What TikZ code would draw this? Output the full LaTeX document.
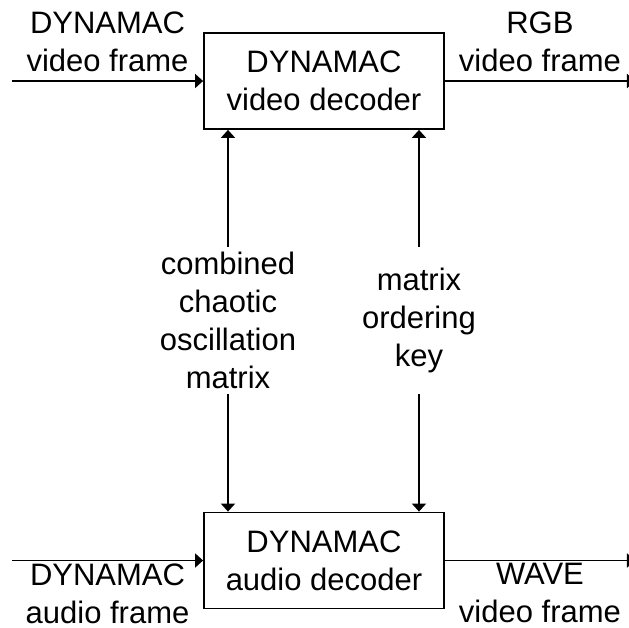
\documentclass[tikz,border=0pt]{standalone}
\usepackage{fontspec}
\setmainfont{Liberation Sans}
\usetikzlibrary{arrows.meta}

\begin{document}
\begin{tikzpicture}[x=0.5pt,y=0.5pt,line width=0.9pt,>={Triangle[length=4pt,width=7pt]}]
	\tikzstyle{every node}+=[inner sep=0pt, align=center, font=\fontsize{15.5}{19}\selectfont]
	\tikzstyle{decoder}=[draw, minimum width=120pt, minimum height=48pt]
	\tikzstyle{signal}=[minimum height=72.5pt]
	\useasboundingbox (0,0) rectangle (629,-628);
	\clip (0,0) rectangle (629,-628);
	% decoders
	\node [decoder] (vdec) at (324,-81) {DYNAMAC\\video decoder};
	\node [decoder] (adec) at (324,-560.5) {DYNAMAC\\audio decoder};
	% shared inputs
	\node [signal] (matrix) at (228,-320.5) {combined\\chaotic\\oscillation\\matrix};
	\node [signal] (key) at (419,-320.5) {matrix\\ordering\\key};
	\coordinate (vin) at (12,-81);
	\coordinate (vout) at (635,-81);
	\coordinate (ain) at (12,-560.5);
	\coordinate (aout) at (635,-560.5);
	% frames in and out
	\draw [->] (vin) -- (vdec) node [midway, above=4pt] {DYNAMAC\\video frame};
	\draw [->] (vdec) -- (vout) node [midway, above=4pt] {RGB\\video frame};
	\draw [->] (ain) -- (adec) node [midway, below=1pt] {DYNAMAC\\audio frame};
	\draw [->] (adec) -- (aout) node [midway, below=1pt] {WAVE\\video frame};
	% matrix and key to both decoders
	\draw [->] (matrix) -- (matrix |- vdec.south);
	\draw [->] (matrix) -- (matrix |- adec.north);
	\draw [->] (key) -- (key |- vdec.south);
	\draw [->] (key) -- (key |- adec.north);
\end{tikzpicture}
\end{document}
